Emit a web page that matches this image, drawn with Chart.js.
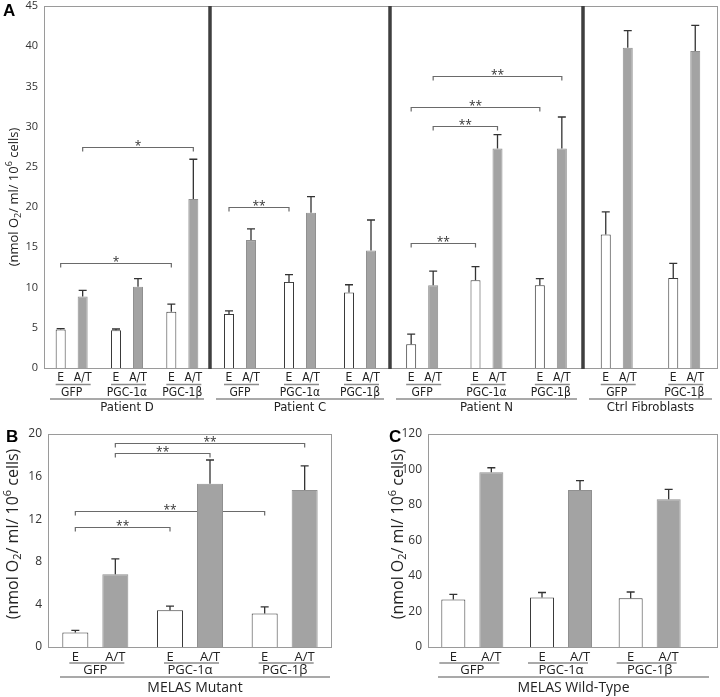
<!DOCTYPE html>
<html>
<head>
<meta charset="utf-8">
<script src="https://cdn.jsdelivr.net/npm/chart.js@4.4.0/dist/chart.umd.min.js"></script>
<style>
  html, body { margin: 0; padding: 0; background: #fff; }
  #wrap { position: relative; width: 720px; height: 697px; }
  #wrap canvas { position: absolute; left: 0; top: 0; }
</style>
</head>
<body>
<div id="wrap">
  <canvas id="a0" width="720" height="697"></canvas>
  <canvas id="a1" width="720" height="697"></canvas>
  <canvas id="a2" width="720" height="697"></canvas>
  <canvas id="a3" width="720" height="697"></canvas>
  <canvas id="b" width="720" height="697"></canvas>
  <canvas id="c" width="720" height="697"></canvas>
</div>
<script>
"use strict";

const seriesNames = ["E", "A/T"];

// panel A: one sub-chart per cell line
const groupsA = ["Patient D", "Patient C", "Patient N", "Ctrl Fibroblasts"];
const constructsA = [
  ["GFP", "PGC-1α", "PGC-1β"],
  ["GFP", "PGC-1α", "PGC-1β"],
  ["GFP", "PGC-1α", "PGC-1β"],
  ["GFP", "PGC-1β"],
];
const eA = [[4.8, 4.7, 7.0], [6.7, 10.7, 9.4], [2.95, 10.9, 10.3], [16.6, 11.2]];
const eErrA = [[0.1, 0.15, 0.95], [0.4, 0.9, 0.95], [1.25, 1.7, 0.8], [2.8, 1.8]];
const atA = [[8.9, 10.1, 21.0], [15.9, 19.3, 14.6], [10.3, 27.3, 27.3], [39.8, 39.4]];
const atErrA = [[0.75, 1.0, 4.95], [1.4, 2.0, 3.8], [1.75, 1.7, 3.9], [2.15, 3.2]];
const yTicksA = [0, 5, 10, 15, 20, 25, 30, 35, 40, 45];
// brackets: [fromConstruct, fromSeries, toConstruct, toSeries, level, label]
const sigA = [
  [[0, 0, 2, 0, 13.0, "*"], [0, 1, 2, 1, 27.5, "*"]],
  [[0, 0, 1, 0, 20.0, "**"]],
  [[0, 0, 1, 0, 15.6, "**"], [0, 1, 1, 1, 30.1, "**"], [0, 0, 2, 0, 32.4, "**"], [0, 1, 2, 1, 36.3, "**"]],
  [],
];

// panel B: MELAS mutant
const constructsB = ["GFP", "PGC-1α", "PGC-1β"];
const eB = [1.35, 3.45, 3.14];
const eErrB = [0.22, 0.38, 0.62];
const atB = [6.84, 15.33, 14.74];
const atErrB = [1.44, 2.23, 2.26];
const yTicksB = [0, 4, 8, 12, 16, 20];
const sigB = [[0, 1, 1, 1, 18.2, "**"], [0, 1, 2, 1, 19.2, "**"], [0, 0, 2, 0, 12.77, "**"], [0, 0, 1, 0, 11.29, "**"]];

// panel C: MELAS wild-type
const constructsC = ["GFP", "PGC-1α", "PGC-1β"];
const eC = [26.7, 27.9, 27.5];
const eErrC = [3.0, 2.8, 3.5];
const atC = [98.4, 88.4, 83.3];
const atErrC = [2.6, 5.3, 5.5];
const yTicksC = [0, 20, 40, 60, 80, 100, 120];

const W = 720, H = 697;
const NARROW = '"Liberation Sans Narrow", "DejaVu Sans Condensed", sans-serif';
const SANS = '"Open Sans", "DejaVu Sans", sans-serif';

function hline(ctx, x1, x2, y) {
  ctx.beginPath();
  ctx.moveTo(x1, y);
  ctx.lineTo(x2, y);
  ctx.stroke();
}

function drawBrackets(chart, opt) {
  const ctx = chart.ctx, y = chart.scales.y;
  ctx.save();
  ctx.strokeStyle = "#6a6a6a";
  ctx.lineWidth = 1.2;
  ctx.fillStyle = "#333";
  ctx.textAlign = "center";
  ctx.textBaseline = "alphabetic";
  ctx.font = opt.starFont;
  opt.sig.forEach(([c1, s1, c2, s2, level, label]) => {
    const x1 = chart.getDatasetMeta(s1).data[c1].x;
    const x2 = chart.getDatasetMeta(s2).data[c2].x;
    const yl = Math.round(y.getPixelForValue(level)) + 0.5;
    ctx.beginPath();
    ctx.moveTo(x1, yl + 4);
    ctx.lineTo(x1, yl);
    ctx.lineTo(x2, yl);
    ctx.lineTo(x2, yl + 4);
    ctx.stroke();
    ctx.fillText(label, (x1 + x2) / 2, yl + opt.starDy);
  });
  ctx.restore();
}

function drawErrorBars(chart) {
  const ctx = chart.ctx, y = chart.scales.y;
  ctx.save();
  ctx.strokeStyle = "#333";
  ctx.lineWidth = 1.3;
  chart.data.datasets.forEach((ds, di) => {
    chart.getDatasetMeta(di).data.forEach((bar, i) => {
      const top = y.getPixelForValue(ds.data[i] + ds.errors[i]);
      ctx.beginPath();
      ctx.moveTo(bar.x, bar.y);
      ctx.lineTo(bar.x, top);
      ctx.moveTo(bar.x - 4, top);
      ctx.lineTo(bar.x + 4, top);
      ctx.stroke();
    });
  });
  ctx.restore();
}

// the frame may run past the bars' own area (panel C has a wider box)
function frameOf(chart, opt) {
  const a = chart.chartArea;
  return { left: a.left, top: a.top, bottom: a.bottom, right: opt.area.frameRight || a.right };
}

function drawFrame(chart, opt) {
  const ctx = chart.ctx, f = frameOf(chart, opt);
  ctx.save();
  ctx.strokeStyle = "#9a9a9a";
  ctx.lineWidth = 1;
  ctx.strokeRect(Math.round(f.left) + 0.5, Math.round(f.top) + 0.5,
    Math.round(f.right - f.left) - 1, Math.round(f.bottom - f.top));
  if (opt.separator) {
    ctx.strokeStyle = "#3f3f3f";
    ctx.lineWidth = 3.5;
    ctx.beginPath();
    ctx.moveTo(f.left, f.top);
    ctx.lineTo(f.left, f.bottom + 1);
    ctx.stroke();
  }
  ctx.restore();
}

function drawXLabels(chart, opt) {
  const ctx = chart.ctx, L = opt.lab, f = frameOf(chart, opt);
  const m0 = chart.getDatasetMeta(0), m1 = chart.getDatasetMeta(1);
  ctx.save();
  ctx.fillStyle = "#222";
  ctx.textAlign = "center";
  ctx.textBaseline = "middle";
  ctx.strokeStyle = "#8c8c8c";
  ctx.lineWidth = 1.3;
  opt.labels.forEach((name, i) => {
    const xe = m0.data[i].x, xa = m1.data[i].x;
    ctx.font = L.serFont;
    ctx.fillText(seriesNames[0], xe, L.ySer);
    ctx.fillText(seriesNames[1], xa, L.ySer);
    hline(ctx, xe - L.pairPad[0], xa + L.pairPad[1], L.yLine1);
    ctx.font = L.consFont;
    ctx.fillText(name, (xe + xa) / 2, L.yCons);
  });
  const gl = f.left + L.groupInset[0], gr = f.right - L.groupInset[1];
  hline(ctx, gl, gr, L.yLine2);
  ctx.font = L.groupFont;
  ctx.fillText(opt.group, (gl + gr) / 2, L.yGroup);
  ctx.restore();
}

function drawYTitle(ctx, t) {
  const main = t.size + "px " + SANS, small = Math.round(t.size * 0.68) + "px " + SANS;
  const parts = [["(nmol O", 0], ["2", 1], ["/ ml/ 10", 0], ["6", -1], [" cells)", 0]];
  ctx.save();
  ctx.fillStyle = "#222";
  ctx.textBaseline = "middle";
  ctx.textAlign = "left";
  let total = 0;
  parts.forEach(([s, k]) => { ctx.font = k ? small : main; total += ctx.measureText(s).width; });
  ctx.translate(t.x, t.y);
  ctx.rotate(-Math.PI / 2);
  let x = -total / 2;
  parts.forEach(([s, k]) => {
    ctx.font = k ? small : main;
    ctx.fillText(s, x, k * t.size * 0.32);
    x += ctx.measureText(s).width;
  });
  ctx.restore();
}

function drawLetter(ctx, l) {
  ctx.save();
  ctx.fillStyle = "#000";
  ctx.font = 'bold 17px "Liberation Sans", Arial, sans-serif';
  ctx.textBaseline = "alphabetic";
  ctx.fillText(l.text, l.x, l.y);
  ctx.restore();
}

function makeChart(id, opt) {
  const a = opt.area;
  const catW = (a.right - a.left) / opt.labels.length;
  // pairDist = distance between E and A/T bar centres
  const cp = (2 * opt.pairDist) / catW;
  const bp = opt.barW / opt.pairDist;
  const common = { borderWidth: 1, borderSkipped: "bottom", categoryPercentage: cp, barPercentage: bp };
  const datasets = [
    Object.assign({ label: seriesNames[0], data: opt.e, errors: opt.eErr, backgroundColor: "#ffffff", borderColor: "#3a3a3a" }, common),
    Object.assign({ label: seriesNames[1], data: opt.at, errors: opt.atErr, backgroundColor: "#a3a3a3", borderColor: "#909090" }, common),
  ];
  const yScale = {
    display: opt.showY,
    min: 0,
    max: opt.ticks[opt.ticks.length - 1],
    afterBuildTicks: (s) => { s.ticks = opt.ticks.map((v) => ({ value: v })); },
    grid: { display: false, drawTicks: false },
    border: { display: false },
    ticks: { padding: 6, color: "#333", font: { family: SANS, size: opt.tickSize } },
  };
  if (opt.showY) {
    yScale.afterFit = (s) => {
      s.width = a.left;
      s.paddingTop = 0;
      s.paddingBottom = 0;
    };
  }

  return new Chart(document.getElementById(id), {
    type: "bar",
    data: { labels: opt.labels, datasets: datasets },
    options: {
      responsive: false,
      animation: false,
      layout: { padding: { left: opt.showY ? 0 : a.left, right: W - a.right, top: a.top, bottom: H - a.bottom } },
      plugins: { legend: { display: false }, tooltip: { enabled: false } },
      scales: { x: { display: false }, y: yScale },
    },
    plugins: [{
      id: "panel" + id,
      beforeDatasetsDraw(chart) { drawBrackets(chart, opt); },
      afterDatasetsDraw(chart) { drawErrorBars(chart); },
      afterDraw(chart) {
        drawFrame(chart, opt);
        drawXLabels(chart, opt);
        if (opt.yTitle) drawYTitle(chart.ctx, opt.yTitle);
        if (opt.letter) drawLetter(chart.ctx, opt.letter);
      },
    }],
  });
}

// panel A layout: four sub-charts side by side
const edgesA = [44, 210, 390, 583, 718];
const labA = {
  serFont: "12px " + NARROW, consFont: "12px " + NARROW, groupFont: "13px " + NARROW,
  ySer: 378, yLine1: 384.5, yCons: 392.5, yLine2: 399, yGroup: 408,
  pairPad: [5, 8], groupInset: [6, 6],
};
groupsA.forEach((g, gi) => {
  makeChart("a" + gi, {
    labels: constructsA[gi], e: eA[gi], eErr: eErrA[gi], at: atA[gi], atErr: atErrA[gi],
    ticks: yTicksA, sig: sigA[gi], group: g,
    area: { left: edgesA[gi], right: edgesA[gi + 1], top: 6, bottom: 368 },
    showY: gi === 0, tickSize: 11, pairDist: 22, barW: 10,
    separator: gi > 0, lab: labA, starFont: "12px " + SANS, starDy: 2,
    yTitle: gi === 0 ? { x: 14, y: 197, size: 13 } : null,
    letter: gi === 0 ? { text: "A", x: 3, y: 16 } : null,
  });
});

makeChart("b", {
  labels: constructsB, e: eB, eErr: eErrB, at: atB, atErr: atErrB,
  ticks: yTicksB, sig: sigB, group: "MELAS Mutant",
  area: { left: 48, right: 332, top: 434, bottom: 647 },
  showY: true, tickSize: 12, pairDist: 40, barW: 26,
  separator: false, starFont: "12px " + SANS, starDy: 2,
  lab: {
    serFont: "13px " + SANS, consFont: "13px " + SANS, groupFont: "14px " + SANS,
    ySer: 657, yLine1: 663, yCons: 670, yLine2: 677, yGroup: 688,
    pairPad: [6, 9], groupInset: [12, 2],
  },
  yTitle: { x: 13, y: 534, size: 16 },
  letter: { text: "B", x: 6, y: 442 },
});

makeChart("c", {
  labels: constructsC, e: eC, eErr: eErrC, at: atC, atErr: atErrC,
  ticks: yTicksC, sig: [], group: "MELAS Wild-Type",
  area: { left: 428, right: 694, frameRight: 718, top: 434, bottom: 647 },
  showY: true, tickSize: 12, pairDist: 38, barW: 24,
  separator: false, starFont: "12px " + SANS, starDy: 2,
  lab: {
    serFont: "13px " + SANS, consFont: "13px " + SANS, groupFont: "14px " + SANS,
    ySer: 657, yLine1: 663, yCons: 670, yLine2: 677, yGroup: 688,
    pairPad: [14, 8], groupInset: [10, 9],
  },
  yTitle: { x: 398, y: 534, size: 16 },
  letter: { text: "C", x: 389, y: 442 },
});
</script>
</body>
</html>
